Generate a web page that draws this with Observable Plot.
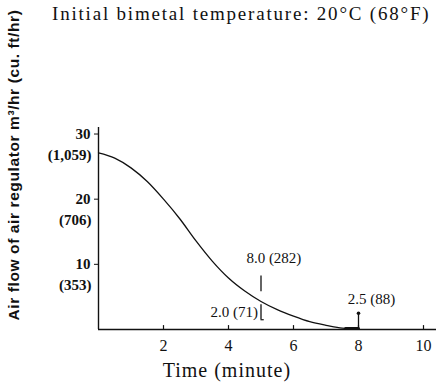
<!DOCTYPE html>
<html>
<head>
<meta charset="utf-8">
<script src="https://cdn.jsdelivr.net/npm/d3@7"></script>
<script src="https://cdn.jsdelivr.net/npm/@observablehq/plot@0.6"></script>
<style>
  html, body { margin: 0; padding: 0; background: #fff; }
  #wrap { position: relative; width: 437px; height: 389px; }
  #title { position: absolute; left: 52px; top: 3px; font-family: 'Liberation Serif', 'Times New Roman', Times, serif; font-size: 19px; letter-spacing: 1.8px; color: #111; white-space: nowrap; }
  #ylab { position: absolute; left: 14px; top: 165px; transform: translate(-50%, -50%) rotate(-90deg); font-family: 'Liberation Sans', Arial, sans-serif; font-size: 15.5px; font-weight: bold; letter-spacing: 0.6px; color: #111; white-space: nowrap; }
  .xlabel text { letter-spacing: 1px; }
</style>
</head>
<body>
<div id="wrap">
  <div id="chart"></div>
  <div id="title">Initial bimetal temperature: 20°C (68°F)</div>
  <div id="ylab">Air flow of air regulator m³/hr (cu. ft/hr)</div>
</div>
<script>
const time = [0, 0.5, 1, 1.5, 2, 2.5, 3, 3.5, 4, 4.5, 5, 5.5, 6, 6.5, 7, 7.5, 8];
const flow = [27.1, 26.3, 24.8, 22.7, 20.0, 17.0, 13.6, 10.5, 7.9, 5.9, 4.3, 3.05, 2.05, 1.2, 0.65, 0.22, 0.15];
const yTicks = [10, 20, 30];
const yTicksAlt = ["(353)", "(706)", "(1,059)"];
const xTicks = [2, 4, 6, 8, 10];
const endTime = [7.6, 8];
const endFlow = [0.15, 0.15];
// annotation at 5 min: range 8.0 (282) down to 2.0 (71)
const annTime = 5;
const annHigh = 8.0;
const annLow = 2.0;
const annHighLabel = "8.0 (282)";
const annLowLabel = "2.0 (71)";
// annotation at 8 min: 2.5 (88)
const arrowTime = 8;
const arrowValue = 2.5;
const arrowLabel = "2.5 (88)";

const serif = "'Liberation Serif', 'Times New Roman', Times, serif";
const curveData = time.map((t, i) => ({t, v: flow[i]}));
const endData = endTime.map((t, i) => ({t, v: endFlow[i]}));

const plot = Plot.plot({
  width: 437,
  height: 389,
  marginLeft: 98,
  marginRight: 1,
  marginTop: 127,
  marginBottom: 60,
  x: {domain: [0, 10.4]},
  y: {domain: [0, 31]},
  style: {fontFamily: serif, color: "#111", background: "transparent"},
  marks: [
    Plot.ruleY([0], {stroke: "#111", strokeWidth: 1.4}),
    Plot.ruleX([0], {stroke: "#111", strokeWidth: 1.4}),
    Plot.axisY({ticks: yTicks, tickSize: 4, tickPadding: 4, label: null, fontSize: 15, fontWeight: "bold", fontFamily: serif, stroke: "#111"}),
    Plot.text(yTicks, {x: 0, y: d => d, text: (d, i) => yTicksAlt[i], dx: -7, dy: 21, textAnchor: "end", fontSize: 15, fontWeight: "bold", fontFamily: serif, fill: "#111"}),
    Plot.axisX({ticks: xTicks, tickSize: 0, tickPadding: 10, label: null, fontSize: 16, fontFamily: serif}),
    Plot.ruleX(xTicks, {x: d => d, y1: 0, y2: 0.6, stroke: "#111", strokeWidth: 1.2}),
    Plot.text(["Time (minute)"], {frameAnchor: "bottom", x: 3.95, dy: 47, text: d => d, fontSize: 20, fontFamily: serif, fill: "#111", className: "xlabel"}),
    Plot.line(curveData, {x: "t", y: "v", curve: "monotone-x", stroke: "#111", strokeWidth: 1.3}),
    Plot.line(endData, {x: "t", y: "v", stroke: "#111", strokeWidth: 3}),
    // annotation at 5 min
    Plot.ruleX([annTime], {x: d => d, y1: annHigh - 2.2, y2: annHigh + 0.2, stroke: "#111", strokeWidth: 1.3}),
    Plot.ruleX([annTime], {x: d => d, y1: annLow - 0.5, y2: annLow + 1.8, stroke: "#111", strokeWidth: 1.3}),
    Plot.ruleY([annLow - 0.5], {y: d => d, x1: annTime, x2: annTime + 0.1, stroke: "#111", strokeWidth: 1.2}),
    Plot.text([annHighLabel], {x: annTime - 0.45, y: annHigh + 3.0, text: d => d, textAnchor: "start", fontSize: 15, fontFamily: serif, fill: "#111"}),
    Plot.text([annLowLabel], {x: annTime, y: annLow + 0.6, text: d => d, dx: -3, textAnchor: "end", fontSize: 15, fontFamily: serif, fill: "#111"}),
    // arrow at 8 min
    Plot.ruleX([arrowTime], {x: d => d, y1: 0, y2: arrowValue, stroke: "#111", strokeWidth: 1.3}),
    Plot.dot([arrowTime], {x: d => d, y: arrowValue, r: 1.8, fill: "#111"}),
    Plot.text([arrowLabel], {x: arrowTime - 0.33, y: arrowValue + 2.1, text: d => d, textAnchor: "start", fontSize: 15, fontFamily: serif, fill: "#111"})
  ]
});
document.getElementById("chart").appendChild(plot);
</script>
</body>
</html>
